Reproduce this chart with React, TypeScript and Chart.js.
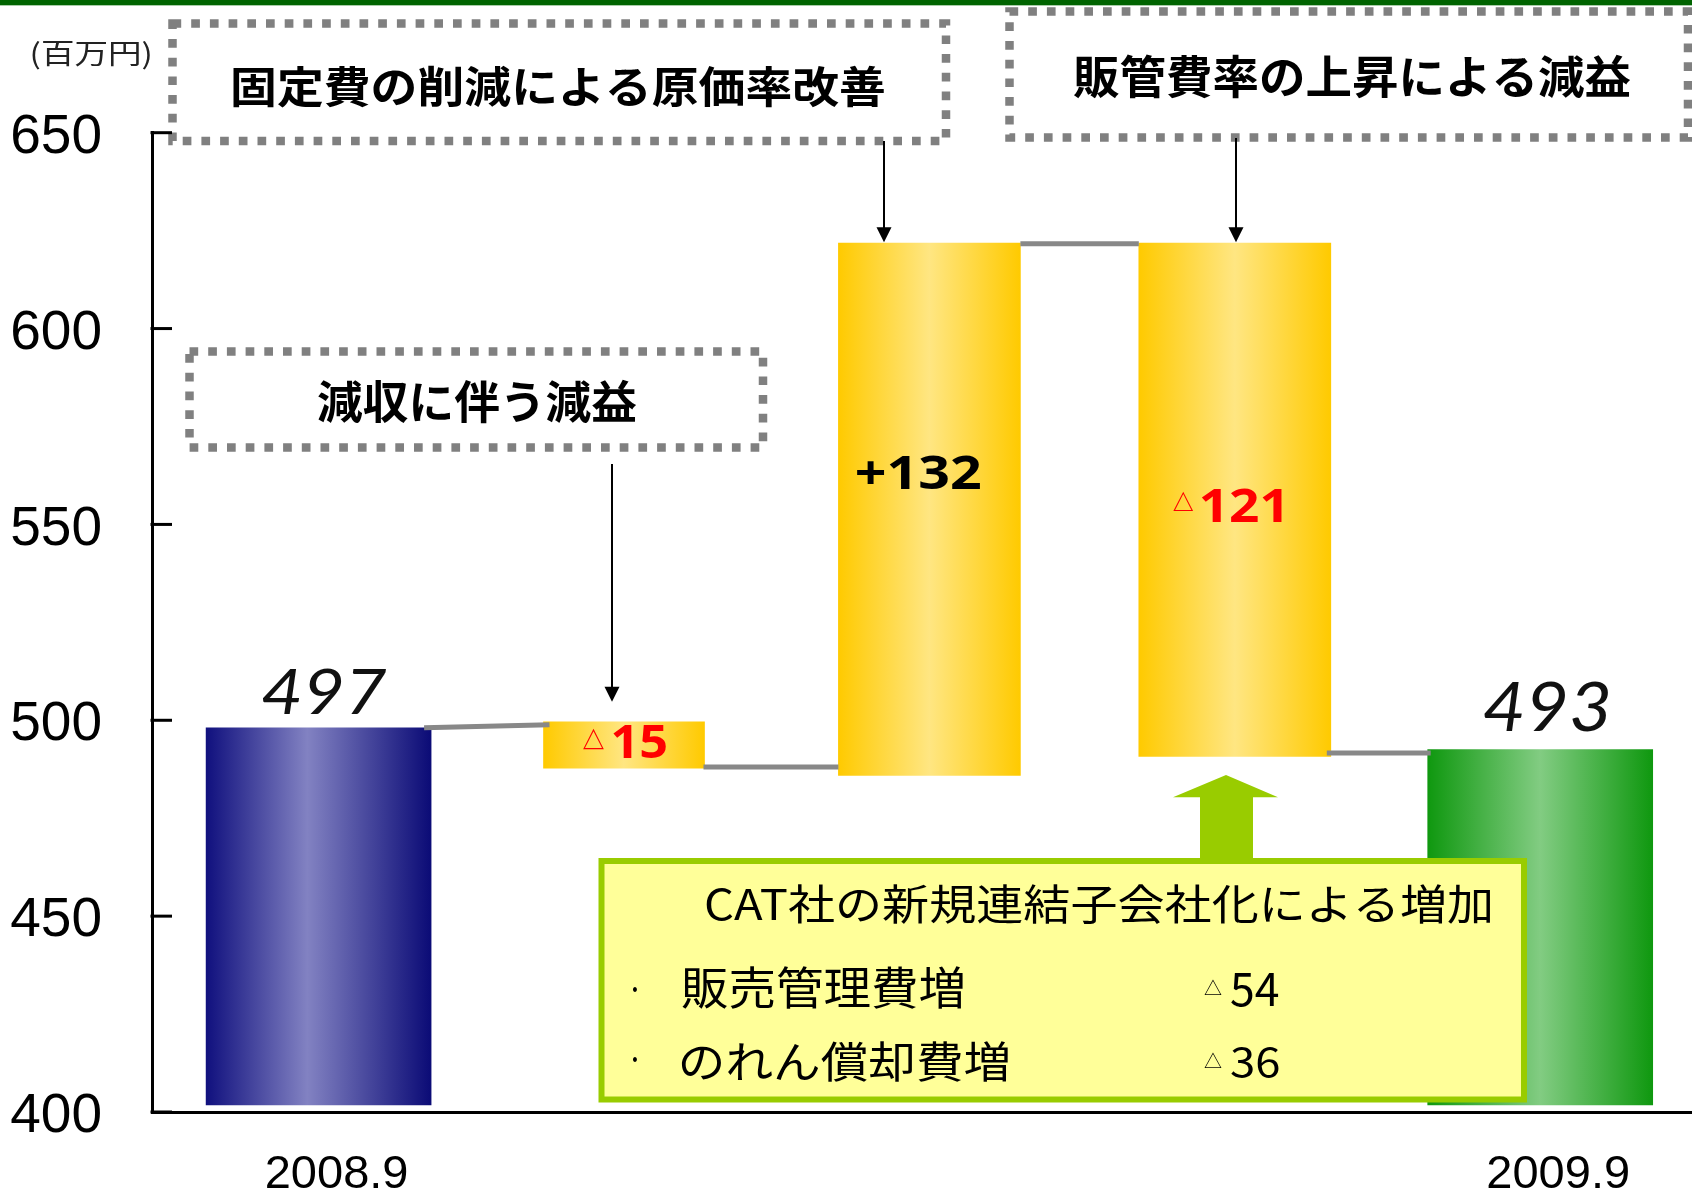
import React, { useEffect, useRef } from "react";
import { Chart, registerables } from "chart.js";

Chart.register(...registerables);

// ---------------- data ----------------
const categories = ["2008.9", "", "", "", "2009.9"];
// floating bars as drawn in the picture (bottom / top, in 百万円)
const barBase = [401.8, 487.8, 485.9, 490.8, 401.8];
const barTop = [498.1, 499.6, 621.8, 621.8, 492.5];
const valueLabels = ["497", "△15", "+132", "△121", "493"];
const yTickValues = [400, 450, 500, 550, 600, 650];
const unitLabel = "(百万円)";
const calloutTexts = ["固定費の削減による原価率改善", "販管費率の上昇による減益", "減収に伴う減益"];
const noteTitle = "CAT社の新規連結子会社化による増加";
const noteItems = ["販売管理費増", "のれん償却費増"];
const noteValues = ["△54", "△36"];

// ---------------- style ----------------
const W = 1692;
const H = 1195;
const barWidths = [225, 161, 182, 192, 225];
const barKinds = ["blue", "yellow", "yellow", "yellow", "green"];
const gradStops: Record<string, [number, string][]> = {
  blue: [[0, "#10107e"], [0.45, "#8282c2"], [1, "#0b0b76"]],
  yellow: [[0, "#ffca00"], [0.5, "#ffe682"], [1, "#ffca00"]],
  green: [[0, "#0f980f"], [0.5, "#82cc82"], [1, "#0f980f"]],
};
// ink boxes of value labels relative to bar centre x / bar top y: [left, right, top, bottom]
const labelBoxes: { tri: number[] | null; num: number[] }[] = [
  { tri: null, num: [-56.5, 68.5, -58, -14] },
  { tri: [-41.5, -19.5, 7, 27], num: [-11.5, 42.5, 2, 37] },
  { tri: null, num: [-72.5, 50.5, 211, 247] },
  { tri: [-62, -41, 249, 268], num: [-34, 47, 244, 279] },
  { tri: null, num: [-56.5, 68.5, -68, -19] },
];
const labelFonts = [
  "italic 400 60px Lato",
  "bold 50px 'Noto Sans'",
  "bold 50px 'Noto Sans'",
  "bold 50px 'Noto Sans'",
  "italic 400 60px Lato",
];
const labelColors = ["#111111", "#ff0000", "#000000", "#ff0000", "#111111"];
const CJK = "'Noto Sans CJK JP'";

function fitText(ctx: CanvasRenderingContext2D, text: string, font: string, color: string, l: number, r: number, t: number, b: number) {
  ctx.save();
  ctx.font = font;
  ctx.textAlign = "left";
  ctx.textBaseline = "alphabetic";
  const m = ctx.measureText(text);
  const iw = m.actualBoundingBoxLeft + m.actualBoundingBoxRight;
  const ih = m.actualBoundingBoxAscent + m.actualBoundingBoxDescent;
  if (iw > 0 && ih > 0 && isFinite(l) && isFinite(t)) {
    ctx.translate(l, t);
    ctx.scale((r - l) / iw, (b - t) / ih);
    ctx.fillStyle = color;
    ctx.fillText(text, m.actualBoundingBoxLeft, m.actualBoundingBoxAscent);
  }
  ctx.restore();
}

function dottedRect(ctx: CanvasRenderingContext2D, l: number, t: number, r: number, b: number) {
  ctx.save();
  ctx.strokeStyle = "#808080";
  ctx.lineWidth = 8.5;
  ctx.lineCap = "butt";
  ctx.setLineDash([8.7, 10]);
  ctx.strokeRect(l, t, r - l, b - t);
  ctx.restore();
}

function downArrow(ctx: CanvasRenderingContext2D, x: number, y0: number, tip: number) {
  ctx.save();
  ctx.strokeStyle = "#000";
  ctx.lineWidth = 2;
  ctx.beginPath();
  ctx.moveTo(x, y0);
  ctx.lineTo(x, tip - 12);
  ctx.stroke();
  ctx.fillStyle = "#000";
  ctx.beginPath();
  ctx.moveTo(x, tip);
  ctx.lineTo(x - 7.5, tip - 15);
  ctx.lineTo(x + 7.5, tip - 15);
  ctx.closePath();
  ctx.fill();
  ctx.restore();
}

function line(ctx: CanvasRenderingContext2D, x1: number, y1: number, x2: number, y2: number) {
  ctx.save();
  ctx.strokeStyle = "#888888";
  ctx.lineWidth = 5;
  ctx.beginPath();
  ctx.moveTo(x1, y1);
  ctx.lineTo(x2, y2);
  ctx.stroke();
  ctx.restore();
}

function geo(chart: any, i: number) {
  const xs = chart.scales.x;
  const ys = chart.scales.y;
  const cx = xs.getPixelForValue(i);
  const w = barWidths[i];
  return { cx, l: cx - w / 2, r: cx + w / 2, top: ys.getPixelForValue(barTop[i]), base: ys.getPixelForValue(barBase[i]) };
}

function drawSplitLabel(ctx: CanvasRenderingContext2D, label: string, font: string, color: string, tri: number[] | null, num: number[], ox: number, oy: number, triFont: string) {
  if (label.startsWith("△") && tri) {
    fitText(ctx, "△", triFont, color, ox + tri[0], ox + tri[1], oy + tri[2], oy + tri[3]);
    fitText(ctx, label.slice(1), font, color, ox + num[0], ox + num[1], oy + num[2], oy + num[3]);
  } else {
    fitText(ctx, label, font, color, ox + num[0], ox + num[1], oy + num[2], oy + num[3]);
  }
}

const decorPlugin = {
  id: "decor",
  beforeDraw(chart: any) {
    const ctx: CanvasRenderingContext2D = chart.ctx;
    ctx.save();
    ctx.fillStyle = "#ffffff";
    ctx.fillRect(0, 0, chart.width, chart.height);
    ctx.fillStyle = "#006400";
    ctx.fillRect(0, 0, chart.width, 5);
    ctx.fillStyle = "#a8cca8";
    ctx.fillRect(0, 5, chart.width, 1);
    ctx.restore();
  },
  afterDatasetsDraw(chart: any) {
    const ctx: CanvasRenderingContext2D = chart.ctx;
    const g = categories.map((_, i) => geo(chart, i));
    const ys = chart.scales.y;
    const area = chart.chartArea;

    // connectors between bars
    line(ctx, g[0].r - 7, g[0].top, g[1].l + 6, g[1].top + 3);
    line(ctx, g[1].r - 1, g[1].base - 1, g[2].l, g[1].base - 1);
    line(ctx, g[2].r, g[2].top + 0.5, g[3].l, g[2].top + 0.5);
    const yc = (g[3].base + g[4].top) / 2;
    line(ctx, g[3].r - 4, yc, g[4].l + 3, yc);

    // value labels
    valueLabels.forEach((lab, i) => {
      const b = labelBoxes[i];
      drawSplitLabel(ctx, lab, labelFonts[i], labelColors[i], b.tri, b.num, g[i].cx, g[i].top, `900 28px ${CJK}`);
    });

    // note box (in front of the last bar)
    ctx.save();
    ctx.fillStyle = "#ffff99";
    ctx.strokeStyle = "#99cc00";
    ctx.lineWidth = 6;
    ctx.fillRect(601.5, 861, 1524 - 601.5, 1099.5 - 861);
    ctx.strokeRect(601.5, 861, 1524 - 601.5, 1099.5 - 861);
    // green up arrow
    ctx.fillStyle = "#99cc00";
    ctx.beginPath();
    ctx.moveTo(1226, 775);
    ctx.lineTo(1278, 797.3);
    ctx.lineTo(1253, 797.3);
    ctx.lineTo(1253, 862);
    ctx.lineTo(1200, 862);
    ctx.lineTo(1200, 797.3);
    ctx.lineTo(1173, 797.3);
    ctx.closePath();
    ctx.fill();
    ctx.restore();

    fitText(ctx, noteTitle, `46px ${CJK}`, "#000", 706, 1490, 885, 925);
    const rows = [
      { t: 967, b: 1010, dot: [987, 992], tri: [979, 995], num: [973, 1007] },
      { t: 1042, b: 1083, dot: [1057, 1062], tri: [1052, 1068], num: [1047, 1078] },
    ];
    const itemRight = [963, 1008];
    noteItems.forEach((item, k) => {
      const r = rows[k];
      fitText(ctx, "・", `46px ${CJK}`, "#000", 633, 637, r.dot[0], r.dot[1]);
      fitText(ctx, item, `46px ${CJK}`, "#000", 682, itemRight[k], r.t, r.b);
      const v = noteValues[k];
      const hasTri = v.startsWith("△");
      if (hasTri) fitText(ctx, "△", `28px ${CJK}`, "#000", 1204, 1222, r.tri[0], r.tri[1]);
      fitText(ctx, hasTri ? v.slice(1) : v, `46px ${CJK}`, "#000", 1231, 1279, r.num[0], r.num[1]);
    });

    // callout boxes
    dottedRect(ctx, 172.5, 23.5, 946, 141);
    dottedRect(ctx, 1009.5, 11.5, 1688, 137.5);
    dottedRect(ctx, 189.5, 351.5, 763, 447.5);
    fitText(ctx, calloutTexts[0], `bold 48px ${CJK}`, "#000", 233, 884, 65, 108);
    fitText(ctx, calloutTexts[1], `bold 48px ${CJK}`, "#000", 1073, 1631, 55, 100);
    fitText(ctx, calloutTexts[2], `bold 48px ${CJK}`, "#000", 318, 637, 380, 425);

    // arrows from callouts to bars
    downArrow(ctx, 612, 464, g[1].top - 20);
    downArrow(ctx, 884, 141, g[2].top - 1);
    downArrow(ctx, 1236, 138, g[3].top - 1);

    // inward y ticks
    ctx.save();
    ctx.strokeStyle = "#000";
    ctx.lineWidth = 3;
    yTickValues.forEach((v) => {
      const y = ys.getPixelForValue(v);
      ctx.beginPath();
      ctx.moveTo(area.left - 1.5, y);
      ctx.lineTo(area.left + 20, y);
      ctx.stroke();
    });
    ctx.restore();

    // unit label
    fitText(ctx, unitLabel, `28px ${CJK}`, "#222", 32, 150, 41, 70);
  },
};

export default function App() {
  const ref = useRef<HTMLCanvasElement>(null);
  useEffect(() => {
    document.body.style.margin = "0";
    const canvas = ref.current;
    if (!canvas) return;
    const datasets = categories.map((_, i) => ({
      label: valueLabels[i],
      data: [{ x: i, y: [barBase[i], barTop[i]] }],
      barThickness: barWidths[i],
      grouped: false,
      borderWidth: 0,
      backgroundColor: (c: any) => {
        const stops = gradStops[barKinds[i]];
        const xs = c.chart.scales && c.chart.scales.x;
        if (!xs || c.type !== "data") return stops[1][1];
        const cx = xs.getPixelForValue(i);
        const w = barWidths[i];
        if (!isFinite(cx)) return stops[1][1];
        const grad = c.chart.ctx.createLinearGradient(cx - w / 2, 0, cx + w / 2, 0);
        stops.forEach(([o, col]) => grad.addColorStop(o, col));
        return grad;
      },
    }));
    const chart = new Chart(canvas, {
      type: "bar",
      data: { datasets: datasets as any },
      options: {
        responsive: false,
        animation: false,
        events: [],
        layout: { padding: { top: 132.7, left: 0, right: 0, bottom: 0 } },
        plugins: { legend: { display: false }, tooltip: { enabled: false } },
        scales: {
          x: {
            type: "linear",
            offset: false,
            min: -0.5455,
            max: 4.497,
            grid: { display: false, drawTicks: false, offset: false },
            border: { display: true, color: "#000", width: 3 },
            ticks: {
              autoSkip: false,
              maxRotation: 0,
              padding: 35,
              labelOffset: 18,
              color: "#000",
              font: { family: "'Liberation Sans', Arial, sans-serif", size: 47 },
              callback: (v: any) => categories[v as number] ?? "",
            },
            afterBuildTicks: (s: any) => {
              s.ticks = categories.map((_, i) => ({ value: i })).filter((_, i) => categories[i] !== "");
            },
            afterFit: (s: any) => {
              s.height = 77.5;
            },
          },
          y: {
            min: 400,
            max: 650,
            grid: { display: false, drawTicks: false },
            border: { display: true, color: "#000", width: 3 },
            ticks: {
              padding: 50,
              labelOffset: 5,
              color: "#000",
              font: { family: "'Liberation Sans', Arial, sans-serif", size: 55 },
            },
            afterBuildTicks: (s: any) => {
              s.ticks = yTickValues.map((v) => ({ value: v }));
            },
            afterFit: (s: any) => {
              s.width = 152;
            },
          },
        },
      },
      plugins: [decorPlugin],
    } as any);
    return () => chart.destroy();
  }, []);
  return (
    <div style={{ position: "absolute", left: 0, top: 0, width: W, height: H, background: "#fff" }}>
      <canvas ref={ref} width={W} height={H} style={{ display: "block", width: W, height: H }} />
    </div>
  );
}
